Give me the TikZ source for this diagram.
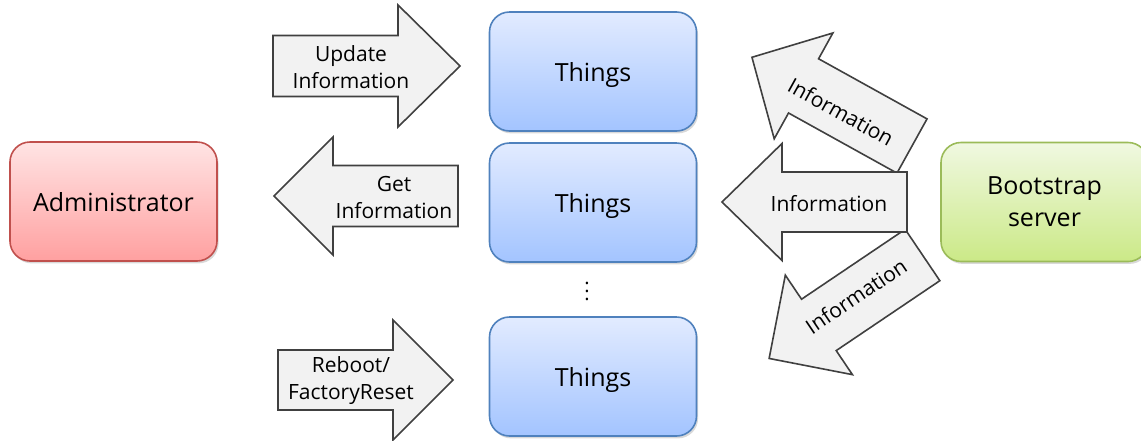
\documentclass[tikz,border=0pt]{standalone}
\usepackage{fontspec}
\setmainfont{Open Sans}
\usetikzlibrary{shadows}
\definecolor{adminline}{RGB}{192,80,77}
\definecolor{admintop}{RGB}{255,228,228}
\definecolor{adminbot}{RGB}{255,160,160}
\definecolor{thingline}{RGB}{79,129,189}
\definecolor{thingtop}{RGB}{226,235,255}
\definecolor{thingbot}{RGB}{163,196,255}
\definecolor{bootline}{RGB}{155,187,89}
\definecolor{boottop}{RGB}{240,248,225}
\definecolor{bootbot}{RGB}{203,233,135}
\definecolor{arrline}{RGB}{64,64,64}
\definecolor{arrfill}{RGB}{242,242,242}
\tikzset{
  box/.style={draw, rounded corners=10pt, minimum width=103.5pt, minimum height=59.5pt, line width=0.8pt, align=center,
    text depth=0pt, font=\fontsize{12.5}{16}\selectfont, drop shadow={shadow xshift=0.8pt, shadow yshift=-1.2pt, opacity=0.3}},
  admin/.style={box, draw=adminline, top color=admintop, bottom color=adminbot},
  thing/.style={box, draw=thingline, top color=thingtop, bottom color=thingbot},
  boot/.style={box, draw=bootline, top color=boottop, bottom color=bootbot},
  bigarrow/.style={draw=arrline, fill=arrfill, line width=0.8pt, line join=miter},
  arrtext/.style={font=\fontsize{10.5}{13.5}\selectfont, align=center, inner sep=0pt}
}
\begin{document}
\begin{tikzpicture}[x=0.5pt, y=-0.5pt]
\useasboundingbox (0,0) rectangle (1141,440);
\node[admin](admin) at (113.5,201.5){Administrator};
\node[thing](thing1) at (593,71.5){Things};
\node[thing](thing2) at (593,202.5){Things};
\node[thing](thing3) at (593,376.5){Things};
\node[boot](boot) at (1044.5,202){Bootstrap\\server};
\node(dots) at (587,285){$\vdots$};

% arrows between administrator and things
\draw[bigarrow, shift={(273,66)}](0,-30.5)--(125,-30.5)--(125,-61)--(187,0)--(125,61)--(125,30.5)--(0,30.5)--cycle;
\draw[bigarrow, shift={(458,196)}, rotate=180](0,-30.5)--(125,-30.5)--(125,-59)--(184,0)--(125,59)--(125,30.5)--(0,30.5)--cycle;
\draw[bigarrow, shift={(278,380)}, rotate=0](0,-30)--(115,-30)--(115,-60)--(175,0)--(115,60)--(115,30)--(0,30)--cycle;
% arrows from bootstrap server
\draw[bigarrow, shift={(912,146)}, rotate=151](0,-31)--(124,-31)--(124,-60.5)--(183,0)--(124,60.5)--(124,31)--(0,31)--cycle;
\draw[bigarrow, shift={(922.5,255)}, rotate=214](0,-31)--(125,-31)--(125,-60)--(185,0)--(125,60)--(125,31)--(0,31)--cycle;
\draw[bigarrow, shift={(907,202)}, rotate=180](0,-30)--(125,-30)--(125,-58.5)--(185,0)--(125,58.5)--(125,30)--(0,30)--cycle;

\node[arrtext](upd) at (351,67){Update\\Information};
\node[arrtext](getinf) at (394,197){Get\\Information};
\node[arrtext](reboot) at (351,381){Reboot/\\FactoryReset};
\node[arrtext, rotate=-29](inf1) at (841,112){Information};
\node[arrtext](inf2) at (829,204){Information};
\node[arrtext, rotate=34](inf3) at (856,296){Information};
\end{tikzpicture}
\end{document}
